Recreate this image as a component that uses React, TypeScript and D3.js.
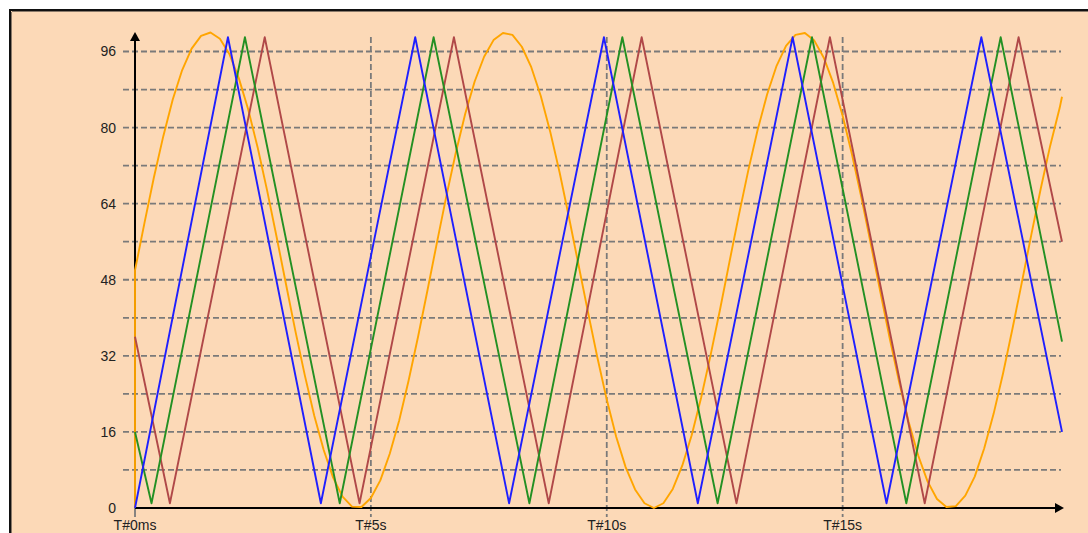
import React from "react";
import * as d3 from "d3";

// ---- data ----
const yTickValues = [0, 16, 32, 48, 64, 80, 96];
const yGridValues = [8, 16, 24, 32, 40, 48, 56, 64, 72, 80, 88, 96];
const xTickValues = [0, 5, 10, 15];
const xTickLabels = ["T#0ms", "T#5s", "T#10s", "T#15s"];

// triangle series: vertices (time in s, value)
const blueTimes = [0, 1.97, 3.94, 5.94, 7.93, 9.94, 11.93, 13.94, 15.93, 17.94, 19.65];
const blueValues = [0, 99, 1, 99, 1, 99, 1, 99, 1, 99, 16];

const greenTimes = [0, 0.35, 2.33, 4.34, 6.33, 8.36, 10.33, 12.35, 14.35, 16.35, 18.35, 19.65];
const greenValues = [16, 1, 99, 1, 99, 1, 99, 1, 99, 1, 99, 35];

const redTimes = [0, 0.74, 2.75, 4.76, 6.76, 8.77, 10.74, 12.75, 14.73, 16.74, 18.73, 19.65];
const redValues = [36, 1, 99, 1, 99, 1, 99, 1, 99, 1, 99, 56];

// orange series sampled every 0.2 s
const orangeTimes = [
  0, 0, 0.2, 0.4, 0.6, 0.8, 1.0, 1.2, 1.4, 1.6, 1.8, 2.0, 2.2, 2.4, 2.6, 2.8, 3.0, 3.2, 3.4, 3.6, 3.8,
  4.0, 4.2, 4.4, 4.6, 4.8, 5.0, 5.2, 5.4, 5.6, 5.8, 6.0, 6.2, 6.4, 6.6, 6.8, 7.0, 7.2, 7.4, 7.6, 7.8,
  8.0, 8.2, 8.4, 8.6, 8.8, 9.0, 9.2, 9.4, 9.6, 9.8, 10.0, 10.2, 10.4, 10.6, 10.8, 11.0, 11.2, 11.4,
  11.6, 11.8, 12.0, 12.2, 12.4, 12.6, 12.8, 13.0, 13.2, 13.4, 13.6, 13.8, 14.0, 14.2, 14.4, 14.6,
  14.8, 15.0, 15.2, 15.4, 15.6, 15.8, 16.0, 16.2, 16.4, 16.6, 16.8, 17.0, 17.2, 17.4, 17.6, 17.8,
  18.0, 18.2, 18.4, 18.6, 18.8, 19.0, 19.2, 19.4, 19.6, 19.65,
];
const orangeValues = [
  0, 50, 59.9, 69.5, 78.2, 85.9, 92.1, 96.6, 99.3, 100, 98.7, 95.5, 90.4, 83.8, 75.8, 66.8, 57.1, 47.1,
  37.2, 27.9, 19.4, 12.2, 6.4, 2.4, 0.3, 0.2, 2.1, 5.8, 11.4, 18.4, 26.8, 36.0, 45.8, 55.8, 65.6, 74.7,
  82.9, 89.7, 94.9, 98.4, 99.9, 99.5, 97.0, 92.7, 86.7, 79.2, 70.6, 61.1, 51.2, 41.3, 31.7, 22.8, 15.0,
  8.6, 3.9, 1.0, 0, 1.0, 4.0, 8.9, 15.3, 23.2, 32.1, 41.7, 51.7, 61.6, 71.0, 79.6, 87.0, 93.0, 97.2,
  99.5, 99.9, 98.3, 94.7, 89.4, 82.5, 74.3, 65.2, 55.4, 45.4, 35.6, 26.4, 18.1, 11.1, 5.6, 1.9, 0.2,
  0.4, 2.6, 6.6, 12.5, 19.8, 28.3, 37.7, 47.5, 57.5, 67.2, 76.2, 84.1, 86.5,
];

const W = 1088;
const H = 533;

export default function App() {
  const x = d3.scaleLinear().domain([0, 19.65]).range([135, 1062]);
  const y = d3.scaleLinear().domain([0, 100]).range([508, 32.5]);

  const line = d3
    .line<[number, number]>()
    .x((d) => x(d[0]))
    .y((d) => y(d[1]));

  const zip = (ts: number[], vs: number[]) => ts.map((t, i) => [t, vs[i]] as [number, number]);

  const series = [
    { color: "#FFA500", pts: zip(orangeTimes, orangeValues) },
    { color: "#b04848", pts: zip(redTimes, redValues) },
    { color: "#239023", pts: zip(greenTimes, greenValues) },
    { color: "#1f1fff", pts: zip(blueTimes, blueValues) },
  ];

  const x0 = x(0);
  const y0 = y(0);
  const xEnd = 1064;
  const yTop = 32;
  const gridLeft = 123;
  const gridRight = 1061;

  return (
    <div style={{ position: "fixed", left: 0, top: 0, width: W, height: H, overflow: "hidden", background: "#fff" }}>
      <svg width={W} height={H} style={{ display: "block" }}>
        <rect x={10} y={10} width={W + 20} height={H + 20} fill="#FCD9B7" stroke="#111" strokeWidth={2} />
        <line x1={11.5} y1={12} x2={11.5} y2={H} stroke="#8a7a6a" strokeWidth={1} />
        <line x1={12} y1={11.5} x2={W} y2={11.5} stroke="#8a7a6a" strokeWidth={1} />

        {/* horizontal grid */}
        {yGridValues.map((v) => (
          <line
            key={"hg" + v}
            x1={gridLeft}
            x2={gridRight}
            y1={y(v)}
            y2={y(v)}
            stroke="#7a7a7a"
            strokeWidth={1.8}
            strokeDasharray="6,3"
          />
        ))}
        {/* vertical grid */}
        {xTickValues.map((t) =>
          t === 0 ? (
            <line key={"vg" + t} x1={x(t)} x2={x(t)} y1={y0} y2={y0 + 9} stroke="#7a7a7a" strokeWidth={1.8} />
          ) : (
            <line
              key={"vg" + t}
              x1={x(t)}
              x2={x(t)}
              y1={37}
              y2={y0 + 9}
              stroke="#7a7a7a"
              strokeWidth={1.8}
              strokeDasharray="6,3"
            />
          )
        )}

        {/* axes */}
        <line x1={x0} y1={y0} x2={x0} y2={yTop + 6} stroke="#000" strokeWidth={2} />
        <path d={`M${x0},${yTop} L${x0 - 5},${yTop + 9} L${x0 + 5},${yTop + 9} Z`} fill="#000" />
        <line x1={x0} y1={y0} x2={xEnd - 6} y2={y0} stroke="#000" strokeWidth={2} />
        <path d={`M${xEnd},${y0} L${xEnd - 9},${y0 - 5} L${xEnd - 9},${y0 + 5} Z`} fill="#000" />

        {/* series */}
        {series.map((s, i) => (
          <path key={i} d={line(s.pts) || ""} fill="none" stroke={s.color} strokeWidth={1.9} strokeLinejoin="round" />
        ))}

        {/* y labels */}
        {yTickValues.map((v) => (
          <text
            key={"yl" + v}
            x={116}
            y={y(v)}
            dy="0.35em"
            textAnchor="end"
            fontFamily="Liberation Sans, Arial, sans-serif"
            fontSize={14}
            fill="#222"
          >
            {v}
          </text>
        ))}
        {/* x labels */}
        {xTickValues.map((t, i) => (
          <text
            key={"xl" + t}
            x={x(t)}
            y={530}
            textAnchor="middle"
            fontFamily="Liberation Sans, Arial, sans-serif"
            fontSize={14}
            fill="#222"
          >
            {xTickLabels[i]}
          </text>
        ))}
      </svg>
    </div>
  );
}
